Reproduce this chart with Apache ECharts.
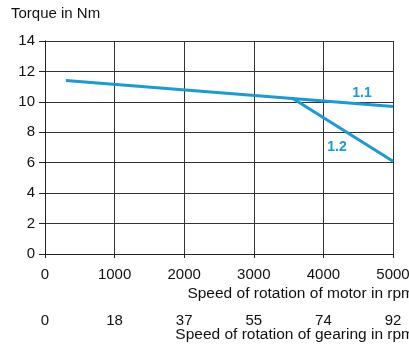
<!DOCTYPE html>
<html><head><meta charset="utf-8">
<script src="https://cdn.jsdelivr.net/npm/echarts@6/dist/echarts.min.js"></script>
<style>html,body{margin:0;padding:0;background:#fff}#c{width:409px;height:346px}</style>
</head><body><div id="c"></div>
<script>
const motorTicks = [0, 1000, 2000, 3000, 4000, 5000];
const gearLabels = ['0', '18', '37', '55', '74', '92'];
const curve11 = [[300, 11.4], [5000, 9.7]];
const curve12 = [[3550, 10.25], [5000, 6.1]];
const curveLabels = [{ name: '1.1', coord: [4555, 10.6] }, { name: '1.2', coord: [4195, 7.03] }];
const yTitle = 'Torque in Nm';
const xTitle1 = 'Speed of rotation of motor in rpm';
const xTitle2 = 'Speed of rotation of gearing in rpm';

const font = 'Liberation Sans, Arial, sans-serif';
const blue = '#1a9ad7';
const chart = echarts.init(document.getElementById('c'), null, { renderer: 'canvas' });
chart.setOption({
  animation: false,
  textStyle: { fontFamily: font },
  grid: { left: 45, right: 16, top: 41, bottom: 92, containLabel: false, outerBoundsMode: 'none' },
  xAxis: [{
    type: 'value', min: 0, max: 5000, interval: 1000, position: 'bottom',
    axisLine: { lineStyle: { color: '#222', width: 1 } },
    axisTick: { show: true, length: 4, inside: false, lineStyle: { color: '#222' } },
    axisLabel: { color: '#111', fontSize: 15, fontFamily: font, margin: 13, formatter: v => String(v) },
    splitLine: { show: true, lineStyle: { color: '#333', width: 1 } }
  }, {
    type: 'value', min: 0, max: 5000, interval: 1000, position: 'bottom', offset: 46,
    axisLine: { show: false }, axisTick: { show: false }, splitLine: { show: false },
    axisLabel: { color: '#111', fontSize: 15, fontFamily: font, margin: 13,
      formatter: v => gearLabels[motorTicks.indexOf(v)] }
  }],
  yAxis: {
    type: 'value', min: 0, max: 14, interval: 2,
    axisLine: { show: true, lineStyle: { color: '#222', width: 1 } },
    axisTick: { show: true, length: 6, lineStyle: { color: '#222' } },
    axisLabel: { color: '#111', fontSize: 15, fontFamily: font, margin: 10 },
    splitLine: { show: true, lineStyle: { color: '#333', width: 1 } }
  },
  series: [{
    type: 'line', data: curve11, symbol: 'none', lineStyle: { color: blue, width: 3 },
    markPoint: {
      symbol: 'circle', symbolSize: 0,
      label: { show: true, formatter: p => p.name, color: blue, fontWeight: 'bold', fontSize: 14, fontFamily: font, position: 'inside' },
      data: curveLabels
    }
  }, {
    type: 'line', data: curve12, symbol: 'none', lineStyle: { color: blue, width: 3 }
  }],
  graphic: [
    { type: 'text', x: 11, y: 14, style: { text: yTitle, font: '15px ' + font, fill: '#111', verticalAlign: 'middle' } },
    { type: 'text', x: 414, y: 294, style: { text: xTitle1, font: '15.5px ' + font, fill: '#111', align: 'right', verticalAlign: 'middle' } },
    { type: 'text', x: 414, y: 335, style: { text: xTitle2, font: '15.5px ' + font, fill: '#111', align: 'right', verticalAlign: 'middle' } }
  ]
});
</script></body></html>
